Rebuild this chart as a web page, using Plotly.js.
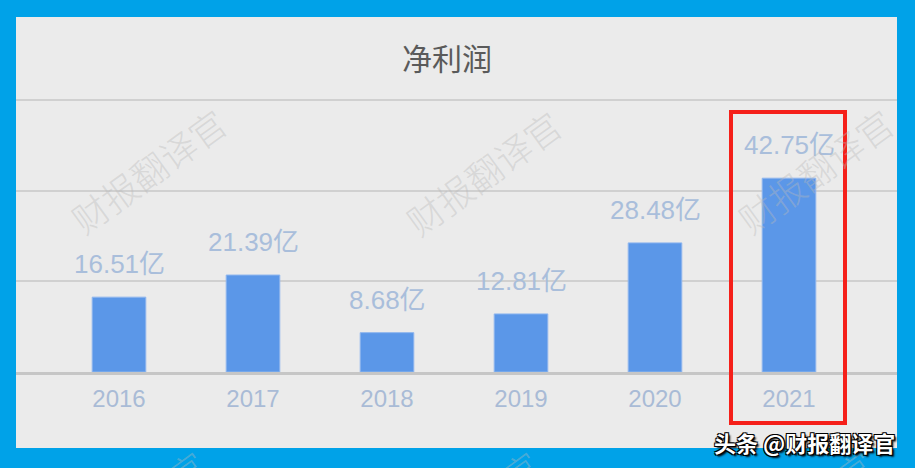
<!DOCTYPE html>
<html>
<head>
<meta charset="utf-8">
<script src="https://cdn.plot.ly/plotly-3.0.1.min.js"></script>
<style>
html,body{margin:0;padding:0;background:#00a2e8;}
#chart{width:915px;height:468px;}
</style>
</head>
<body>
<div id="chart"></div>
<script>
// ---- data ----
const years = ['2016', '2017', '2018', '2019', '2020', '2021'];
const netProfit = [16.51, 21.39, 8.68, 12.81, 28.48, 42.75];
const unit = '亿';
const chartTitle = '净利润';
const watermarkText = '财报翻译官';
const sourceText = '头条 @财报翻译官';

// ---- layout geometry (pixels) ----
const W = 915, H = 468;
const plotL = 16, plotR = 897, plotT = 96, plotB = 372;
const yMax = 60 * (plotB - plotT) / (plotB - 100);
const px = x => (x - plotL) / (plotR - plotL);
const py = y => (plotB - y) / (plotB - plotT);

const labelFont = {family: 'Liberation Sans, Noto Sans CJK SC, sans-serif', size: 26, color: '#a9bedb'};

const annotations = [];
// data labels (x given as category index)
years.forEach((yr, i) => {
  annotations.push({
    x: i, y: netProfit[i], xref: 'x', yref: 'y',
    text: netProfit[i].toFixed(2) + unit,
    showarrow: false, yanchor: 'bottom', yshift: 16,
    font: labelFont
  });
});
// watermarks
const wmPos = [[148, 170], [483, 172], [815, 170], [128, 512], [462, 512], [796, 512]];
wmPos.forEach(p => {
  annotations.push({
    x: px(p[0]), y: py(p[1]), xref: 'paper', yref: 'paper',
    text: watermarkText, showarrow: false, textangle: -36,
    xanchor: 'center', yanchor: 'middle',
    font: {family: 'Noto Sans CJK SC, sans-serif', size: 36, color: 'rgba(185,185,185,0.4)', weight: 300}
  });
});
// source tag
annotations.push({
  x: px(804), y: py(442), xref: 'paper', yref: 'paper',
  text: sourceText, showarrow: false, xanchor: 'center', yanchor: 'middle',
  font: {family: 'Noto Sans CJK SC, sans-serif', size: 22, color: '#ffffff', weight: 700,
         shadow: '1px 1px 0 #000, -1px -1px 0 #000, 1px -1px 0 #000, -1px 1px 0 #000, 2px 2px 2px #000'}
});

const shapes = [
  // inner gray panel
  {type: 'rect', xref: 'paper', yref: 'paper', x0: px(16), x1: px(897), y0: py(448), y1: py(17),
   fillcolor: '#ebebeb', line: {width: 0}, layer: 'below'},
  // red highlight box
  {type: 'rect', xref: 'paper', yref: 'paper', x0: px(731), x1: px(845), y0: py(423), y1: py(112),
   fillcolor: 'rgba(0,0,0,0)', line: {color: '#f5201a', width: 4}, layer: 'above'}
];

const trace = {
  type: 'bar', x: years, y: netProfit,
  marker: {color: '#5b97e8', line: {width: 1, color: '#8fb6ee'}},
  width: 0.40, hoverinfo: 'skip'
};

const catSpan = (plotR - plotL) / 134;
const layout = {
  width: W, height: H,
  paper_bgcolor: '#00a2e8', plot_bgcolor: 'rgba(0,0,0,0)',
  margin: {l: plotL, r: W - plotR, t: plotT, b: H - plotB, pad: 0},
  title: {text: chartTitle, x: 447 / W, xanchor: 'center', y: 1 - 59 / H, yanchor: 'middle',
          yref: 'container', xref: 'container',
          font: {family: 'Noto Sans CJK SC, sans-serif', size: 30, color: '#5a5a5a'}},
  xaxis: {type: 'category', range: [-(119 - plotL) / 134, -(119 - plotL) / 134 + catSpan],
          showgrid: false, zeroline: false, showline: true, linecolor: '#c6c6c6', linewidth: 3,
          ticks: '', ticklabelstandoff: 3,
          tickfont: {family: 'Liberation Sans, sans-serif', size: 24, color: '#a9bbd6'}},
  yaxis: {range: [0, yMax], tickvals: [20, 40, 60], showgrid: true, gridcolor: '#d0d0d0', gridwidth: 2,
          zeroline: false, showticklabels: false, ticks: ''},
  showlegend: false,
  annotations: annotations,
  shapes: shapes
};

Plotly.newPlot('chart', [trace], layout, {displayModeBar: false, staticPlot: true});
</script>
</body>
</html>
